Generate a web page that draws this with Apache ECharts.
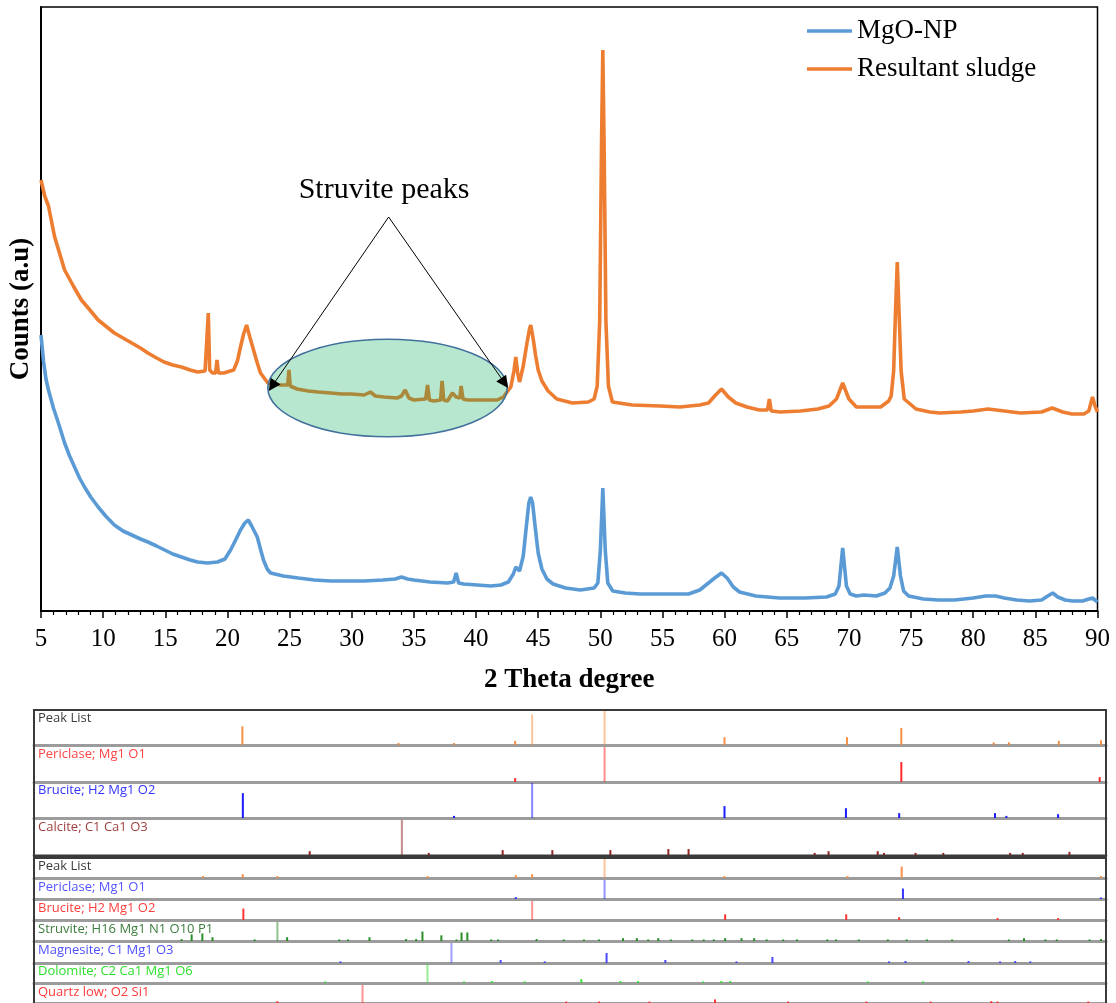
<!DOCTYPE html>
<html>
<head>
<meta charset="utf-8">
<style>
html, body { margin: 0; padding: 0; background: #fff; }
#chart { width: 1116px; height: 1003px; }
</style>
<script src="https://cdn.jsdelivr.net/npm/echarts@6/dist/echarts.min.js"></script>
</head>
<body>
<div id="chart"></div>
<script>
// XRD patterns, [2 theta, counts (a.u.)]
var mgoNP = [
    [5.0, 276], [5.2, 250], [5.4, 232], [5.6, 221], [6.0, 203], [6.4, 188], [6.9, 168], [7.3, 155],
    [7.7, 144], [8.1, 133], [8.5, 124], [9.0, 114], [9.6, 104], [10.2, 95], [10.9, 86], [11.6, 80],
    [12.3, 76], [13.0, 72], [13.6, 69], [14.3, 65], [14.95, 61], [15.6, 57], [16.3, 54], [17.0, 51],
    [17.6, 49], [18.4, 48], [19.2, 49], [19.8, 52], [20.25, 61], [20.7, 72], [21.05, 81], [21.4, 88],
    [21.67, 91], [21.95, 85], [22.4, 74], [22.7, 60], [22.9, 51], [23.2, 42], [23.47, 38], [24.5, 35],
    [25.7, 33], [27.0, 31], [28.3, 30], [29.7, 30], [31.0, 30], [32.5, 31], [33.5, 32], [34.0, 34],
    [34.5, 32], [35.0, 31], [36.3, 29], [37.7, 28], [38.2, 29], [38.4, 38], [38.6, 28], [39.0, 27],
    [40.1, 26], [41.2, 25], [42.0, 26], [42.6, 29], [43.0, 37], [43.2, 44], [43.5, 40], [43.8, 55],
    [44.05, 85], [44.25, 108], [44.4, 114], [44.55, 108], [44.75, 85], [45.0, 58], [45.3, 42], [45.7, 32],
    [46.2, 27], [47.2, 23], [48.4, 21], [49.5, 23], [49.8, 28], [50.0, 60], [50.2, 123], [50.4, 60],
    [50.6, 28], [51.0, 20], [52.0, 18], [53.2, 17], [55.0, 17], [57.1, 17], [58.0, 21], [58.6, 27],
    [59.2, 33], [59.75, 38], [60.2, 33], [60.7, 24], [61.2, 19], [62.5, 15], [64.4, 13], [66.5, 13],
    [68.2, 14], [68.9, 17], [69.2, 25], [69.5, 63], [69.8, 25], [70.1, 17], [70.6, 15], [71.2, 16],
    [72.2, 15], [72.9, 18], [73.3, 23], [73.6, 35], [73.89, 64], [74.15, 35], [74.4, 20], [74.8, 15],
    [76.0, 12], [77.2, 11], [78.5, 11], [80.0, 13], [81.0, 15], [81.8, 15], [82.5, 13], [83.5, 11],
    [84.55, 10], [85.5, 11], [86.0, 15], [86.4, 18], [86.8, 14], [87.4, 11], [88.0, 10], [88.8, 10],
    [89.3, 12], [89.6, 13], [89.8, 11], [90.0, 9]
];

var sludge = [
    [5.0, 431], [5.3, 415], [5.6, 405], [6.1, 374], [6.9, 341], [7.6, 325], [8.25, 311], [9.0, 300],
    [9.6, 291], [10.3, 284], [10.9, 278], [11.6, 273], [12.3, 268], [13.0, 263], [13.6, 258], [14.3, 253],
    [14.9, 249], [15.6, 246], [16.3, 244], [17.0, 241], [17.6, 239], [18.2, 240], [18.35, 242], [18.46, 298],
    [18.57, 241], [18.8, 238], [19.05, 238], [19.16, 251], [19.27, 238], [19.7, 238], [20.5, 241], [20.8, 250],
    [21.05, 264], [21.3, 277], [21.54, 286], [21.8, 274], [22.1, 261], [22.4, 248], [22.66, 238], [23.25, 228],
    [23.8, 227], [24.3, 226], [24.85, 226], [24.95, 241], [25.05, 225], [25.6, 222], [26.5, 220], [27.3, 219],
    [28.3, 218], [29.2, 217], [30.0, 217], [31.0, 216], [31.5, 219], [31.9, 215], [32.6, 214], [33.65, 213],
    [34.0, 215], [34.3, 221], [34.6, 213], [35.0, 211], [35.95, 212], [36.1, 226], [36.25, 211], [36.6, 210],
    [37.15, 211], [37.27, 230], [37.4, 211], [37.7, 210], [38.1, 218], [38.4, 214], [38.7, 213], [38.8, 225],
    [38.95, 212], [39.3, 211], [40.5, 211], [41.7, 211], [42.2, 214], [42.8, 224], [43.05, 240], [43.2, 254],
    [43.35, 238], [43.5, 229], [43.8, 245], [44.1, 268], [44.3, 282], [44.4, 286], [44.6, 272], [44.8, 255],
    [45.0, 241], [45.3, 230], [45.8, 220], [46.5, 212], [47.75, 208], [49.04, 209], [49.5, 212], [49.75, 225],
    [49.95, 290], [50.1, 470], [50.2, 561], [50.3, 470], [50.45, 290], [50.65, 225], [50.97, 209], [52.58, 206],
    [54.8, 205], [56.4, 204], [58.0, 206], [58.7, 208], [59.2, 215], [59.75, 222], [60.3, 214], [60.9, 208],
    [61.8, 204], [62.8, 201], [63.45, 201], [63.6, 212], [63.75, 200], [64.5, 199], [66.1, 200], [67.5, 202],
    [68.4, 205], [69.0, 212], [69.5, 228], [70.0, 212], [70.6, 204], [71.5, 204], [72.55, 204], [73.2, 210],
    [73.4, 215], [73.6, 240], [73.75, 300], [73.89, 349], [74.03, 300], [74.2, 240], [74.45, 212], [75.4, 202],
    [76.5, 199], [77.3, 198], [79.0, 199], [80.0, 200], [81.2, 202], [82.5, 200], [83.8, 198], [85.5, 199],
    [86.35, 203], [87.2, 199], [87.95, 197], [88.9, 197], [89.3, 200], [89.6, 214], [89.8, 205], [90.0, 199]
];

var seriesNames = ['MgO-NP', 'Resultant sludge'];
var xTicks = { min: 5, max: 90, step: 5 };

// reference sticks, [2 theta, relative intensity %]
var box1PeakList = [[21.52, 55], [33.9, 6], [38.3, 6], [43.15, 12], [44.5, 90], [50.24, 100], [59.75, 23],
    [69.46, 23], [73.77, 50], [81.1, 8], [82.3, 8], [86.26, 12], [89.6, 14]];
var box1Periclase = [[43.15, 11], [50.24, 100], [73.77, 57], [89.5, 14]];
var box1Brucite = [[21.56, 71], [38.3, 6], [44.5, 100], [59.75, 34], [69.38, 28], [73.6, 14], [81.2, 14],
    [82.1, 6], [86.2, 11]];
var box1Calcite = [[26.86, 11], [34.17, 100], [36.3, 6], [42.16, 14], [46.1, 14], [50.7, 14], [55.3, 17],
    [56.9, 17], [66.9, 6], [68.0, 11], [71.9, 11], [72.4, 6], [74.9, 6], [77.1, 6], [82.4, 6], [83.4, 6], [87.1, 9]];
var box2PeakList = [[18.4, 10], [21.55, 20], [24.3, 10], [36.2, 10], [43.2, 15], [44.5, 20], [50.24, 100],
    [59.75, 10], [69.5, 10], [73.8, 60], [89.6, 10]];
var box2Periclase = [[43.2, 10], [50.24, 100], [73.9, 55], [89.6, 8]];
var box2Brucite = [[21.6, 60], [44.5, 100], [59.8, 30], [69.4, 30], [73.6, 15], [81.4, 10], [86.2, 10]];
var box2Struvite = [[16.7, 10], [17.5, 35], [18.35, 40], [19.15, 20], [22.5, 8], [24.3, 100], [25.07, 20],
    [29.2, 8], [29.9, 8], [31.6, 20], [34.5, 10], [35.3, 10], [35.8, 50], [37.3, 30], [38.5, 8], [38.9, 45],
    [39.36, 45], [41.25, 8], [41.8, 8], [44.85, 10], [47.0, 8], [48.6, 8], [49.8, 8], [51.7, 15], [52.8, 15],
    [53.7, 8], [54.5, 15], [55.5, 8], [57.2, 8], [58.1, 8], [58.9, 8], [59.8, 15], [61.1, 15], [62.1, 15],
    [63.1, 8], [64.4, 8], [65.5, 8], [67.9, 8], [68.6, 8], [70.4, 8], [72.7, 8], [74.2, 8], [75.8, 8],
    [77.8, 8], [82.3, 8], [83.5, 15], [85.2, 8], [86.1, 8], [88.7, 8], [89.6, 10]];
var box2Magnesite = [[29.3, 8], [38.1, 100], [42.0, 15], [45.5, 8], [50.4, 50], [55.06, 15], [60.7, 8],
    [63.55, 30], [72.8, 8], [74.1, 10], [79.1, 10], [81.6, 8], [82.8, 10], [84.0, 8]];
var box2Dolomite = [[28.1, 8], [36.2, 100], [39.1, 8], [41.3, 10], [43.9, 8], [48.4, 20], [51.5, 10],
    [52.9, 10], [58.06, 8], [59.5, 10], [60.2, 10], [71.1, 8], [75.5, 8]];
var box2Quartz = [[24.3, 10], [31.05, 100], [47.2, 8], [49.8, 8], [53.8, 8], [59.0, 20], [64.8, 8],
    [71.0, 8], [76.1, 8], [80.9, 10], [81.4, 8], [88.6, 8]];

var phaseLabels = ['Peak List', 'Periclase; Mg1 O1', 'Brucite; H2 Mg1 O2', 'Calcite; C1 Ca1 O3',
    'Peak List', 'Periclase; Mg1 O1', 'Brucite; H2 Mg1 O2', 'Struvite; H16 Mg1 N1 O10 P1',
    'Magnesite; C1 Mg1 O3', 'Dolomite; C2 Ca1 Mg1 O6', 'Quartz low; O2 Si1'];
var phaseSticks = [box1PeakList, box1Periclase, box1Brucite, box1Calcite,
    box2PeakList, box2Periclase, box2Brucite, box2Struvite, box2Magnesite, box2Dolomite, box2Quartz];

// annotation, in data units
var annot = {
    text: 'Struvite peaks', textAt: [32.6, 421],
    apex: [32.97, 394], leftTip: [23.6, 225], rightTip: [42.3, 228],
    ellipseCenter: [32.88, 223], ellipseHalfX: 9.63, ellipseHalfY: 48.7
};

// ---- layout / style ----
var stickColors = ['#f58a3c', '#ff2020', '#1010ff', '#8b1a1a',
    '#f58a3c', '#2a2aff', '#ff2a2a', '#1f8a1f', '#4040ff', '#2fdc2f', '#ff2a2a'];
var labelColors = ['#3c3c3c', '#ff4545', '#3535ff', '#a04040',
    '#3c3c3c', '#5555ff', '#ff4040', '#3d7d3d', '#5050ff', '#30e030', '#ff3a3a'];
var rowTops = [711, 747, 783, 820, 859, 880, 901, 922, 943, 964, 985];
var rowHeights = [34, 35, 35, 35, 19, 19, 19, 19, 20, 19, 19];
var serif = 'Liberation Serif';

function hexA(hex, a) {
    var r = parseInt(hex.substr(1, 2), 16), g = parseInt(hex.substr(3, 2), 16), b = parseInt(hex.substr(5, 2), 16);
    return 'rgba(' + r + ',' + g + ',' + b + ',' + a + ')';
}

var dom = document.getElementById('chart');
var myChart = echarts.init(dom, null, { renderer: 'canvas' });

var grids = [{ left: 40, right: 18.5, top: 7, bottom: 392, show: true, borderColor: '#000', borderWidth: 1.5, backgroundColor: 'transparent' }];
var xAxes = [{
    type: 'value', gridIndex: 0, min: xTicks.min, max: xTicks.max, interval: xTicks.step,
    name: '2 Theta degree', nameLocation: 'middle', nameGap: 56,
    nameTextStyle: { fontFamily: serif, fontSize: 27, fontWeight: 'bold', color: '#000' },
    axisLine: { onZero: false, lineStyle: { color: '#000', width: 2 } },
    axisTick: { show: true, inside: false, length: 7, lineStyle: { color: '#000', width: 1.5 } },
    minorTick: { show: true, splitNumber: 5, length: 4, lineStyle: { color: '#000', width: 1.2 } },
    axisLabel: { fontFamily: serif, fontSize: 25, color: '#000', margin: 16, showMinLabel: true, showMaxLabel: true },
    splitLine: { show: false }
}];
var yAxes = [{
    type: 'value', gridIndex: 0, min: 0, max: 604,
    name: 'Counts (a.u)', nameLocation: 'middle', nameGap: 6, nameRotate: 90,
    nameTextStyle: { fontFamily: serif, fontSize: 27, fontWeight: 'bold', color: '#000' },
    axisLine: { show: true, lineStyle: { color: '#000', width: 2 } },
    axisTick: { show: false }, axisLabel: { show: false }, splitLine: { show: false }
}];

var series = [
    {
        name: seriesNames[0], type: 'line', data: mgoNP, xAxisIndex: 0, yAxisIndex: 0,
        symbol: 'none', showSymbol: false, z: 2,
        lineStyle: { color: '#5b9bd5', width: 3.6 }, itemStyle: { color: '#5b9bd5' }
    },
    {
        name: seriesNames[1], type: 'line', data: sludge, xAxisIndex: 0, yAxisIndex: 0,
        symbol: 'none', showSymbol: false, z: 2,
        lineStyle: { color: '#ed7d31', width: 3.6 }, itemStyle: { color: '#ed7d31' }
    },
    {
        // arrows of the annotation
        name: 'arrows', type: 'line', data: [], xAxisIndex: 0, yAxisIndex: 0, silent: true,
        markLine: {
            silent: true, z: 20, animation: false,
            symbol: ['none', 'triangle'], symbolSize: 12,
            label: { show: false },
            lineStyle: { color: '#000', width: 1, type: 'solid' },
            itemStyle: { color: '#000' },
            data: [
                [{ coord: annot.apex }, { coord: annot.leftTip }],
                [{ coord: annot.apex }, { coord: annot.rightTip }]
            ]
        }
    }
];

phaseSticks.forEach(function (sticks, i) {
    var gi = i + 1;
    grids.push({ left: 34, right: 10, top: rowTops[i], height: rowHeights[i] });
    xAxes.push({
        type: 'value', gridIndex: gi, min: xTicks.min, max: xTicks.max,
        axisLine: { show: true, onZero: false, lineStyle: { color: '#9c9c9c', width: 3 } },
        axisTick: { show: false }, axisLabel: { show: false }, splitLine: { show: false }
    });
    yAxes.push({ type: 'value', gridIndex: gi, min: 0, max: 100, show: false });
    series.push({
        name: phaseLabels[i], type: 'bar', xAxisIndex: gi, yAxisIndex: gi, data: sticks,
        barWidth: 2, silent: true, animation: false,
        itemStyle: {
            color: function (p) { return hexA(stickColors[i], p.value[1] >= 90 ? 0.5 : 0.95); }
        }
    });
});

option = {
    animation: false,
    backgroundColor: '#fff',
    grid: grids,
    xAxis: xAxes,
    yAxis: yAxes,
    legend: {
        data: seriesNames, orient: 'vertical', left: 807, top: 16, padding: 0,
        icon: 'rect', itemGap: 8, itemWidth: 45, itemHeight: 3.5,
        textStyle: { fontFamily: serif, fontSize: 27, color: '#000', lineHeight: 30 }
    },
    series: series
};
myChart.setOption(option);

// annotation shapes placed from data coordinates
var c = myChart.convertToPixel({ gridIndex: 0 }, annot.ellipseCenter);
var ex = myChart.convertToPixel({ gridIndex: 0 }, [annot.ellipseCenter[0] + annot.ellipseHalfX, annot.ellipseCenter[1] + annot.ellipseHalfY]);
var tp = myChart.convertToPixel({ gridIndex: 0 }, annot.textAt);

var graphics = [
    {
        type: 'ellipse', z: 10, silent: true,
        shape: { cx: c[0], cy: c[1], rx: ex[0] - c[0], ry: c[1] - ex[1] },
        style: { fill: 'rgba(0,168,84,0.28)', stroke: '#41719c', lineWidth: 1.6 }
    },
    {
        type: 'text', z: 10, silent: true, x: tp[0], y: tp[1],
        style: { text: annot.text, fontFamily: serif, fontSize: 30, fill: '#000', align: 'center', verticalAlign: 'middle' }
    },
    {
        type: 'rect', z: 30, silent: true,
        shape: { x: 34, y: 710, width: 1072, height: 146 },
        style: { fill: 'none', stroke: '#3a3a3a', lineWidth: 2 }
    },
    {
        type: 'rect', z: 30, silent: true,
        shape: { x: 34, y: 858, width: 1072, height: 160 },
        style: { fill: 'none', stroke: '#3a3a3a', lineWidth: 2 }
    }
];
phaseLabels.forEach(function (label, i) {
    graphics.push({
        type: 'text', z: 30, silent: true, x: 38, y: rowTops[i] + 1,
        style: { text: label, fontFamily: 'Open Sans', fontSize: 13, fill: labelColors[i] }
    });
});
myChart.setOption({ graphic: graphics });

window.addEventListener('resize', myChart.resize);
</script>
</body>
</html>
